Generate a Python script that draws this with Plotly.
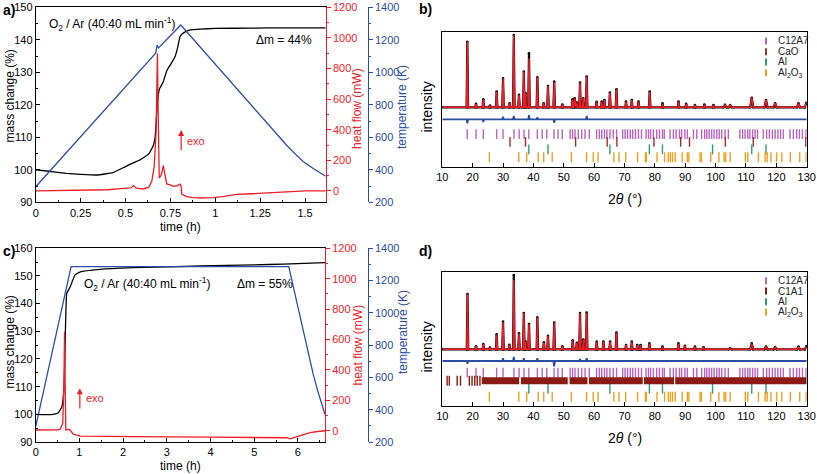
import plotly.graph_objects as go

W, H = 817, 474
FONT = "Liberation Sans, Arial, sans-serif"
RED = "#ee1c25"
BLUE = "#2b4ea2"
C_C12A7 = "#b865c0"
C_CAO = "#a0302e"
C_C1A1 = "#8b1a14"
C_AL = "#2f9e6a"
C_AL2O3 = "#f0a01e"

# ---------------- panel a data ----------------
a_mass_t = [0, 0.05, 0.17, 0.25, 0.34, 0.43, 0.5, 0.55, 0.58, 0.63, 0.655, 0.665, 0.674, 0.68, 0.69,
            0.71, 0.73, 0.75, 0.776, 0.79, 0.804, 0.82, 0.84, 0.87, 0.915, 1.0, 1.2, 1.4, 1.615]
a_mass = [100, 99.7, 98.9, 98.6, 98.4, 99.1, 101, 102.3, 103, 104.9, 107.5, 110, 117.4, 122, 125,
          127, 130.5, 132.3, 134.8, 137.5, 141, 142, 142.7, 143.1, 143.3, 143.5, 143.6, 143.7, 143.7]
a_heat_t = [0, 0.2, 0.4, 0.49, 0.53, 0.545, 0.56, 0.6, 0.63, 0.646, 0.66, 0.67, 0.675, 0.678, 0.681,
            0.688, 0.695, 0.70, 0.706, 0.711, 0.716, 0.722, 0.73, 0.75, 0.767, 0.79, 0.804, 0.81,
            0.813, 0.84, 0.878, 0.92, 0.99, 1.05, 1.12, 1.2, 1.3, 1.435, 1.5, 1.615]
a_heat = [0, 2, 8, 17, 20, 35, 18, 13, 25, 61, 159, 376, 700, 898, 600,
          85, 95, 107, 140, 165, 130, 80, 46, 40, 30, 35, 45, 30,
          -20, -37, -44, -46, -44, -35, -22, -18, -12, -5, 0, 0]
a_temp_t = [0, 0.668, 0.676, 0.684, 0.808, 1.322, 1.40, 1.45, 1.491, 1.55, 1.615]
a_temp = [296, 1118, 1168, 1150, 1291, 645, 548, 492, 450, 405, 360]

# ---------------- panel c data ----------------
c_mass_t = [0, 0.2, 0.4, 0.52, 0.6, 0.65, 0.68, 0.71, 0.79, 0.9, 1.02, 1.47, 2.24, 3.76, 5.0, 5.67, 6.62]
c_mass = [100, 99.9, 100, 100.6, 102.8, 110, 130.5, 143.7, 146.1, 150.4, 151.5, 152.4, 153, 153.6, 154, 154.3, 154.8]
c_temp_t = [0, 0.81, 5.79, 6.2, 6.35, 6.45, 6.55, 6.62]
c_temp = [295, 1286, 1286, 794, 620, 520, 430, 370]
c_heat_t = [0, 0.3, 0.5, 0.56, 0.62, 0.645, 0.66, 0.675, 0.69, 0.72, 0.76, 0.8, 0.86, 1.02, 1.5,
            2.24, 4.0, 5.75, 5.82, 6.05, 6.28, 6.45, 6.62]
c_heat = [5, 5, 6, 10, 49, 300, 651, 300, 5, 8, 10, 0, -22, -35, -38,
          -39, -42, -46, -53, -31, -13, -5, 0]

# ---------------- panel b data (XRD) ----------------
b_peak_pos = [18.25, 21.1, 23.5, 25.7, 27.9, 30.0, 32.2, 33.55, 35.25, 36.85, 37.4, 38.55, 41.3, 43.4,
              44.8, 46.85, 49.5, 52.9, 53.6, 54.3, 55.35, 56.4, 57.55, 60.8, 62.5, 63.4, 65.2, 67.35,
              70.5, 72.4, 74.6, 78.3, 82.5, 87.8, 90.3, 93.2, 96.3, 99.3, 103.1, 104.8, 111.9, 116.6,
              119.6, 127.3, 129.9]
b_calc_h = [92.6, 46.5, 50.0, 45.3, 55.7, 65.4, 47.0, 97.6, 53.2, 70.5, 54.5, 80.3, 66.2, 47.0,
            59.7, 63.0, 46.0, 50.0, 50.6, 47.5, 62.3, 50.6, 66.8, 48.0, 48.2, 49.4, 54.9, 57.4,
            48.2, 49.4, 48.2, 55.6, 46.9, 48.2, 46.5, 45.7, 46.0, 45.7, 45.7, 45.5, 51.1, 49.4,
            46.9, 46.9, 47.4]
b_obs_h = list(b_calc_h)
b_obs_h[11] = 84.0
b_base = 44.0
b_diff_level = 35.1
b_diff_pos = [18.25, 23.5, 30.0, 33.55, 38.55, 41.3, 46.85, 57.55]
b_diff_amp = [-3.0, -2.0, 2.0, 2.5, 3.0, 1.5, -2.5, 2.5]

b_c12a7 = [18.2, 21.1, 23.5, 27.9, 30.0, 33.6, 35.3, 36.9, 38.5, 41.3, 42.9, 44.4, 46.8, 48.1, 49.5,
           52.1, 52.9, 53.7, 54.8, 55.9, 57.0, 58.4, 60.8, 61.7, 62.5, 63.4, 64.2, 65.2, 66.3, 67.4,
           69.4, 70.2, 71.0, 71.9, 72.7, 73.6, 74.6, 75.6, 77.1, 77.9, 78.6, 79.5, 80.6, 81.5, 82.5,
           83.1, 85.0, 86.1, 87.0, 88.1, 88.8, 89.9, 90.7, 92.7, 93.8, 95.4, 96.4, 97.1, 97.9, 98.7,
           99.5, 100.4, 101.2, 102.0, 103.1, 104.2, 108.0, 108.9, 109.7, 110.6, 111.3, 112.2, 113.0,
           113.8, 115.7, 116.8, 117.7, 118.7, 119.6, 120.5, 121.4, 122.3, 124.5, 125.6, 126.7, 127.6,
           128.6, 129.8]
b_cao = [32.3, 37.4, 53.9, 64.3, 67.5, 79.7, 88.5, 91.4, 103.2, 112.4, 129.7]
b_al = [38.5, 44.8, 65.2, 78.2, 82.5, 99.0, 111.9, 116.6]
b_al2o3 = [25.5, 35.2, 37.8, 41.6, 43.4, 46.2, 52.5, 57.5, 59.7, 61.3, 66.5, 68.2, 70.4, 74.3, 76.9,
           77.2, 80.7, 83.2, 84.4, 85.1, 85.8, 86.7, 89.0, 90.7, 91.2, 94.9, 95.3, 98.4, 101.1, 102.8,
           103.3, 104.8, 109.8, 110.6, 114.1, 116.3, 117.0, 118.2, 120.1, 121.8, 124.6, 127.7, 129.8]
b_phases = ["C12A7", "CaO", "Al", "Al<sub>2</sub>O<sub>3</sub>"]

# ---------------- panel d data (XRD) ----------------
d_peak_pos = [18.3, 21.1, 23.5, 25.7, 27.9, 30.0, 32.1, 33.55, 35.25, 36.85, 37.4, 38.55, 41.3, 43.45,
              44.8, 46.85, 49.5, 52.95, 54.3, 55.35, 56.45, 57.55, 60.85, 63.05, 65.25, 67.35, 70.5,
              72.4, 74.2, 75.3, 78.2, 82.5, 87.75, 89.9, 93.2, 96.0, 104.8, 111.9, 116.6, 119.6,
              127.3, 129.9]
d_calc_h = [83.4, 44.5, 46.2, 43.5, 53.3, 62.8, 45.5, 93.8, 54.1, 69.3, 48.0, 61.0, 66.0, 47.5,
            52.2, 62.1, 44.5, 49.0, 47.0, 69.2, 49.5, 69.5, 47.9, 47.9, 47.9, 54.6, 45.4,
            47.9, 45.4, 45.4, 46.6, 44.2, 46.6, 44.9, 44.2, 43.7, 43.0, 46.6, 44.2, 43.7,
            44.2, 44.6]
d_obs_h = list(d_calc_h)
d_obs_h[7] = 97.5
d_base = 42.2
d_diff_level = 33.5
d_diff_pos = [18.3, 30.0, 33.55, 36.85, 41.3, 46.85, 55.35, 57.55]
d_diff_amp = [-2.0, 2.0, 3.0, 2.0, 2.0, -4.0, 1.5, 2.0]

d_c12a7 = b_c12a7
d_c1a1_ticks = [11.6, 12.3, 14.9, 16.0, 18.9, 19.8, 20.7, 21.5, 22.4]
d_c1a1_bands = [(23.0, 35.3), (35.9, 51.3), (51.9, 57.8), (58.3, 76.0), (76.4, 86.3), (86.7, 130.0)]
d_al = b_al
d_al2o3 = b_al2o3
d_phases = ["C12A7", "C1A1", "Al", "Al<sub>2</sub>O<sub>3</sub>"]


def profile(pos, heights, base, lo=10.0, hi=130.0):
    """Piecewise-linear pattern through the read peak tops and the baseline."""
    xs = {lo, hi}
    peaks = []
    for p, h in zip(pos, heights):
        w = 0.25 if p < 100 else 0.5
        peaks.append((p, h, w))
        for x in (p - w, p, p + w):
            if lo <= x <= hi:
                xs.add(round(x, 3))
    xs = sorted(xs)
    ys = []
    for x in xs:
        v = base
        for p, h, w in peaks:
            d = abs(x - p)
            if d < w:
                cand = base + (h - base) * (1 - d / w)
                if (h - base) >= 0:
                    v = max(v, cand)
                else:
                    v = min(v, cand)
        ys.append(v)
    return xs, ys


def diff_curve(pos, amp, level):
    return profile(pos, [level + a for a in amp], level)


fig = go.Figure()

# ---- panel a traces
fig.add_trace(go.Scatter(x=a_temp_t, y=a_temp, mode="lines", line=dict(color=BLUE, width=1.3),
                         xaxis="x", yaxis="y3", showlegend=False))
fig.add_trace(go.Scatter(x=a_heat_t, y=a_heat, mode="lines", line=dict(color=RED, width=1.3),
                         xaxis="x", yaxis="y2", showlegend=False))
fig.add_trace(go.Scatter(x=a_mass_t, y=a_mass, mode="lines", line=dict(color="black", width=1.3, shape="spline", smoothing=0.3),
                         xaxis="x", yaxis="y", showlegend=False))

# ---- panel c traces
fig.add_trace(go.Scatter(x=c_temp_t, y=c_temp, mode="lines", line=dict(color=BLUE, width=1.3),
                         xaxis="x2", yaxis="y6", showlegend=False))
fig.add_trace(go.Scatter(x=c_heat_t, y=c_heat, mode="lines", line=dict(color=RED, width=1.3),
                         xaxis="x2", yaxis="y5", showlegend=False))
fig.add_trace(go.Scatter(x=c_mass_t, y=c_mass, mode="lines", line=dict(color="black", width=1.3, shape="spline", smoothing=0.3),
                         xaxis="x2", yaxis="y4", showlegend=False))


def xrd(fig, xa, ya, pos, calc_h, obs_h, base, dpos, damp, dlevel, rows):
    ox, oy = profile(pos, obs_h, base)
    cx, cy = profile(pos, calc_h, base)
    dx, dy = diff_curve(dpos, damp, dlevel)
    fig.add_trace(go.Scatter(x=ox, y=oy, mode="lines+markers", line=dict(color="black", width=2.2),
                             marker=dict(color="black", size=2.6), xaxis=xa, yaxis=ya, showlegend=False))
    fig.add_trace(go.Scatter(x=cx, y=cy, mode="lines", line=dict(color=RED, width=1.5),
                             xaxis=xa, yaxis=ya, showlegend=False))
    fig.add_trace(go.Scatter(x=dx, y=dy, mode="lines", line=dict(color=BLUE, width=1.8),
                             xaxis=xa, yaxis=ya, showlegend=False))
    for vals, level, col in rows:
        fig.add_trace(go.Scatter(x=vals, y=[level] * len(vals), mode="markers",
                                 marker=dict(symbol="line-ns", size=7, line=dict(color=col, width=1.4)),
                                 xaxis=xa, yaxis=ya, showlegend=False))


xrd(fig, "x3", "y7", b_peak_pos, b_calc_h, b_obs_h, b_base, b_diff_pos, b_diff_amp, b_diff_level,
    [(b_c12a7, 24.2, C_C12A7), (b_cao, 18.4, C_CAO), (b_al, 12.9, C_AL), (b_al2o3, 7.0, C_AL2O3)])
xrd(fig, "x4", "y8", d_peak_pos, d_calc_h, d_obs_h, d_base, d_diff_pos, d_diff_amp, d_diff_level,
    [(d_c12a7, 24.8, C_C12A7), (d_c1a1_ticks, 18.8, C_C1A1), (d_al, 12.7, C_AL), (d_al2o3, 6.9, C_AL2O3)])

shapes = []
for x0, x1 in d_c1a1_bands:
    shapes.append(dict(type="rect", xref="x4", yref="y8", x0=x0, x1=x1, y0=16.2, y1=21.4,
                       fillcolor=C_C1A1, line=dict(width=0), layer="above"))


def px(x):
    return x / W


def py(y):
    return 1 - y / H


# legends (b and d)
ann = []
leg_cols_b = [C_C12A7, C_CAO, C_AL, C_AL2O3]
leg_cols_d = [C_C12A7, C_C1A1, C_AL, C_AL2O3]
for names, cols, ys in [(b_phases, leg_cols_b, [41, 51.7, 62, 72.7]),
                        (d_phases, leg_cols_d, [280.7, 291, 301.7, 312.3])]:
    for nm, col, yy in zip(names, cols, ys):
        shapes.append(dict(type="line", xref="paper", yref="paper", x0=px(766), x1=px(766),
                           y0=py(yy - 3.5), y1=py(yy + 3.5), line=dict(color=col, width=2)))
        ann.append(dict(text=nm, x=px(776), y=py(yy), xref="paper", yref="paper", xanchor="left",
                        yanchor="middle", showarrow=False, font=dict(size=10, color="#222")))

# panel labels
for lab, xx, yy in [("a)", 1, 10), ("b)", 417, 9), ("c)", 1, 251), ("d)", 417, 251)]:
    ann.append(dict(text=f"<b>{lab}</b>", x=px(xx), y=py(yy), xref="paper", yref="paper",
                    xanchor="left", yanchor="middle", showarrow=False, font=dict(size=14, color="black")))


def title_ann(text, x, y, color="black", size=12, angle=0):
    return dict(text=text, x=px(x), y=py(y), xref="paper", yref="paper", xanchor="center",
                yanchor="middle", showarrow=False, textangle=angle, font=dict(size=size, color=color))


# axis titles
ann += [
    title_ann("mass change (%)", 9.5, 96, angle=-90),
    title_ann("heat flow (mW)", 357, 109, color=RED, angle=-90),
    title_ann("temperature (K)", 402, 107, color=BLUE, angle=-90),
    title_ann("time (h)", 180, 227),
    title_ann("mass change (%)", 9.5, 342, angle=-90),
    title_ann("heat flow (mW)", 357.5, 345, color=RED, angle=-90),
    title_ann("temperature (K)", 403, 332, color=BLUE, angle=-90),
    title_ann("time (h)", 180, 466),
    title_ann("intensity", 426.5, 107, size=14, angle=-90),
    title_ann("2<i>θ</i> (°)", 625, 199, size=14),
    title_ann("intensity", 426.5, 347, size=14, angle=-90),
    title_ann("2<i>θ</i> (°)", 625, 438, size=14),
]

# in-plot texts
ann += [
    dict(text="O<sub>2</sub> / Ar (40:40 mL min<sup>-1</sup>)", x=px(47), y=py(24), xref="paper", yref="paper",
         xanchor="left", yanchor="middle", showarrow=False, font=dict(size=12, color="black")),
    dict(text="Δm = 44%", x=px(314), y=py(40), xref="paper", yref="paper",
         xanchor="right", yanchor="middle", showarrow=False, font=dict(size=12, color="black")),
    dict(text="O<sub>2</sub> / Ar (40:40 mL min<sup>-1</sup>)", x=px(82), y=py(284), xref="paper", yref="paper",
         xanchor="left", yanchor="middle", showarrow=False, font=dict(size=12, color="black")),
    dict(text="Δm = 55%", x=px(235), y=py(284), xref="paper", yref="paper",
         xanchor="left", yanchor="middle", showarrow=False, font=dict(size=12, color="black")),
    # exo arrows
    dict(text="", x=0.81, y=398, xref="x", yref="y2", ax=0.81, ay=256, axref="x", ayref="y2",
         showarrow=True, arrowhead=2, arrowsize=1, arrowwidth=1.2, arrowcolor=RED),
    dict(text="exo", x=0.832, y=326, xref="x", yref="y2", xanchor="left", yanchor="middle",
         showarrow=False, font=dict(size=11, color=RED)),
    dict(text="", x=1.01, y=279, xref="x2", yref="y5", ax=1.01, ay=136, axref="x2", ayref="y5",
         showarrow=True, arrowhead=2, arrowsize=1, arrowwidth=1.2, arrowcolor=RED),
    dict(text="exo", x=1.106, y=215, xref="x2", yref="y5", xanchor="left", yanchor="middle",
         showarrow=False, font=dict(size=11, color=RED)),
]

tickfont = dict(size=11, color="black")


def xa_tga(domain, anchor, rng, tickvals, ticktext, minor_dtick):
    return dict(domain=domain, anchor=anchor, range=rng, tickvals=tickvals, ticktext=ticktext,
                ticks="inside", ticklen=4, tickcolor="black", showline=True, linecolor="black", linewidth=1,
                mirror=True, showgrid=False, zeroline=False, tickfont=tickfont, automargin=False,
                minor=dict(ticks="inside", ticklen=2, tickvals=[v + minor_dtick for v in tickvals], tickcolor="black"))


def ya_mass(domain, anchor, rng):
    return dict(domain=domain, anchor=anchor, range=rng, dtick=10, ticks="inside", ticklen=4,
                tickcolor="black", showline=True, linecolor="black", linewidth=1, showgrid=False,
                zeroline=False, tickfont=tickfont, automargin=False,
                minor=dict(ticks="inside", ticklen=2, dtick=5, tickcolor="black"))


def ya_heat(anchor, overlay):
    return dict(anchor=anchor, overlaying=overlay, side="right", range=[-74, 1200], tick0=0, dtick=200,
                ticks="outside", ticklen=4, tickcolor=RED, showline=True, linecolor=RED, linewidth=1,
                showgrid=False, zeroline=False, tickfont=dict(size=11, color=RED), automargin=False,
                minor=dict(ticks="outside", ticklen=2, dtick=100, tickcolor=RED))


def ya_temp(overlay):
    return dict(anchor="free", overlaying=overlay, side="right", position=px(367.7), range=[200, 1400],
                dtick=200, ticks="outside", ticklen=4, tickcolor=BLUE, showline=True, linecolor=BLUE,
                linewidth=1, showgrid=False, zeroline=False, tickfont=dict(size=11, color=BLUE),
                automargin=False,
                minor=dict(ticks="outside", ticklen=2, dtick=100, tickcolor=BLUE))


def xa_xrd(domain, anchor):
    return dict(domain=domain, anchor=anchor, range=[10, 130], dtick=10, ticks="inside", ticklen=4,
                tickcolor="black", showline=True, linecolor="black", linewidth=1, mirror=True,
                showgrid=False, zeroline=False, tickfont=tickfont, automargin=False)


def ya_xrd(domain, anchor):
    return dict(domain=domain, anchor=anchor, range=[0, 100], showticklabels=False, ticks="",
                showline=True, linecolor="black", linewidth=1, mirror=True, showgrid=False, zeroline=False,
                automargin=False)


fig.update_layout(
    template="none",
    width=W, height=H, margin=dict(l=0, r=0, t=0, b=0, pad=0, autoexpand=False),
    paper_bgcolor="white", plot_bgcolor="white",
    font=dict(family=FONT, size=11, color="black"),
    showlegend=False,
    xaxis=xa_tga([px(35.7), px(325.7)], "y", [0, 1.615],
                 [0, 0.25, 0.5, 0.75, 1, 1.25, 1.5], ["0", "0.25", "0.5", "0.75", "1", "1.25", "1.5"], 0.125),
    yaxis=ya_mass([py(202.3), py(7.3)], "x", [90, 150]),
    yaxis2=ya_heat("x", "y"),
    yaxis3=ya_temp("y"),
    xaxis2=xa_tga([px(35.7), px(325.0)], "y4", [0, 6.62],
                  [0, 1, 2, 3, 4, 5, 6], ["0", "1", "2", "3", "4", "5", "6"], 0.5),
    yaxis4=ya_mass([py(442), py(248.3)], "x2", [90, 160]),
    yaxis5=ya_heat("x2", "y4"),
    yaxis6=ya_temp("y4"),
    xaxis3=xa_xrd([px(442.3), px(806.7)], "y7"),
    yaxis7=ya_xrd([py(166.7), py(31.7)], "x3"),
    xaxis4=xa_xrd([px(442.3), px(806.7)], "y8"),
    yaxis8=ya_xrd([py(406), py(271.7)], "x4"),
    shapes=shapes,
    annotations=ann,
)

fig.write_html("out.html", config={"displayModeBar": False},
               post_script="document.body.style.margin='0px';document.body.style.overflow='hidden';")
